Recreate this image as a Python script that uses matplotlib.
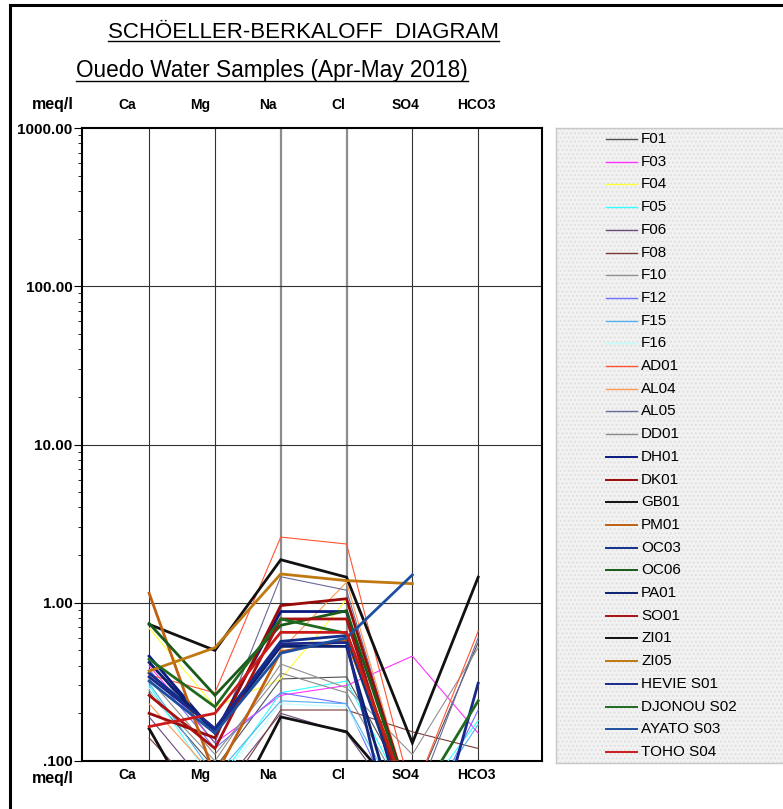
import numpy as np
import matplotlib
matplotlib.use("Agg")
import matplotlib.pyplot as plt
from matplotlib.patches import Rectangle
from matplotlib.lines import Line2D

plt.rcParams['font.family'] = ['Liberation Sans', 'DejaVu Sans']

# ---- data (meq/l), nan = not measured, values < 0.1 fall off the chart ----
ions = ["Ca", "Mg", "Na", "Cl", "SO4", "HCO3"]
samples = ["F01", "F03", "F04", "F05", "F06", "F08", "F10", "F12", "F15", "F16",
           "AD01", "AL04", "AL05", "DD01", "DH01", "DK01", "GB01", "PM01",
           "OC03", "OC06", "PA01", "SO01", "ZI01", "ZI05",
           "HEVIE S01", "DJONOU S02", "AYATO S03", "TOHO S04"]
ca = [0.27, 0.40, 0.69, 0.30, 0.19, 0.14, 0.28, 0.38, 0.31, 0.29,
      0.35, 0.23, 0.43, 0.33, 0.46, 0.20, 0.73, 1.15,
      0.36, 0.74, 0.42, 0.26, 0.16, 0.37,
      0.34, 0.44, 0.32, 0.165]
mg = [0.09, 0.13, 0.22, 0.07, 0.06, 0.05, 0.10, 0.12, 0.08, 0.07,
      0.27, 0.08, 0.13, 0.11, 0.15, 0.14, 0.50, 0.08,
      0.16, 0.26, 0.15, 0.12, 0.03, 0.52,
      0.16, 0.22, 0.15, 0.20]
na = [0.33, 0.26, 0.33, 0.27, 0.20, 0.21, 0.41, 0.27, 0.24, 0.23,
      2.60, 0.50, 1.46, 0.36, 0.88, 0.96, 1.87, 0.49,
      0.57, 0.72, 0.53, 0.79, 0.19, 1.52,
      0.55, 0.79, 0.48, 0.65]
cl = [0.34, 0.30, 1.05, 0.32, 0.15, 0.21, 0.29, 0.23, 0.23, 0.22,
      2.35, 1.35, 1.20, 0.27, 0.88, 1.06, 1.45, 0.58,
      0.62, 0.89, 0.53, 0.79, 0.153, 1.38,
      0.56, 0.64, 0.60, 0.65]
so4 = [0.06, 0.46, 0.04, 0.05, 0.04, 0.153, 0.11, 0.03, 0.04, 0.04,
       0.06, 0.05, 0.05, 0.05, 0.03, 0.05, 0.13, 0.05,
       0.04, 0.05, 0.02, 0.04, 0.05, 1.32,
       0.01, 0.05, 1.50, 0.05]
hco3 = [0.56, 0.15, np.nan, 0.18, np.nan, 0.12, 0.52, 0.21, 0.17, np.nan,
        0.66, np.nan, 0.60, np.nan, np.nan, np.nan, 1.45, np.nan,
        np.nan, np.nan, np.nan, np.nan, np.nan, np.nan,
        0.31, 0.24, np.nan, np.nan]

colors = ["#505050", "#ff33ff", "#ffff33", "#33ffff", "#6a4a7a", "#7a3a3a", "#909090",
          "#7070ff", "#50b0f0", "#c0ffff", "#ff5533", "#ff9950", "#6a6a9a", "#8a8a8a",
          "#0a1a80", "#9a0a0a", "#111111", "#c06010", "#10308a", "#1a5a1a", "#0a2070",
          "#aa1010", "#111111", "#c07810", "#1a2a8a", "#1f6a1f", "#1f4fa0", "#cc1a1a"]
thick = [False] * 14 + [True] * 14

W, H = 783, 809


def fx(px):
    return px / W


def fy(py):
    return 1 - py / H


fig = plt.figure(figsize=(W / 100, H / 100), dpi=100)
fig.patch.set_facecolor("white")

# outer frame of the sheet
fig.patches.append(Rectangle((fx(10), -0.1), 1.2, fy(5) + 0.1, transform=fig.transFigure,
                             fill=False, edgecolor="black", linewidth=2.2, clip_on=False))

ax = fig.add_axes([fx(82), fy(761), fx(542) - fx(82), fy(128) - fy(761)])
x = np.arange(len(ions))
values = np.array([ca, mg, na, cl, so4, hco3]).T

for i, name in enumerate(samples):
    ax.plot(x, values[i], color=colors[i], linewidth=2.0 if thick[i] else 0.8,
            solid_joinstyle="miter", zorder=3)

ax.set_yscale("log")
ax.set_ylim(0.1, 1000)
ax.set_xlim(-1.02, 5.97)

for xi, ion in enumerate(ions):
    heavy = ion in ("Na", "Cl")
    ax.axvline(xi, color="#8c8c8c" if heavy else "#333333",
               linewidth=1.6 if heavy else 0.8, zorder=1)
for yv in (1, 10, 100):
    ax.axhline(yv, color="#333333", linewidth=0.8, zorder=1)

ax.set_xticks([])
ax.set_yticks([0.1, 1, 10, 100, 1000])
ax.set_yticklabels([".100", "1.00", "10.00", "100.00", "1000.00"],
                   fontweight="bold", fontsize=11)
ax.yaxis.set_minor_locator(matplotlib.ticker.LogLocator(base=10, subs=np.arange(2, 10)))
ax.yaxis.set_minor_formatter(matplotlib.ticker.NullFormatter())
ax.tick_params(axis="y", which="major", length=6, width=0.8, pad=1)
ax.tick_params(axis="y", which="minor", length=3, width=0.6)
for s in ax.spines.values():
    s.set_linewidth(1.5)

# column labels above and below the chart
label_px = [127, 200, 268, 338, 406, 476]
for ion, px in zip(ions, label_px):
    fig.text(fx(px), fy(105), ion, ha="center", va="center", fontsize=10, fontweight="bold")
    fig.text(fx(px), fy(775), ion, ha="center", va="center", fontsize=10, fontweight="bold")
fig.text(fx(74), fy(105), "meq/l", ha="right", va="center", fontsize=11.5, fontweight="bold")
fig.text(fx(74), fy(779), "meq/l", ha="right", va="center", fontsize=11.5, fontweight="bold")

# titles, underlined
title = fig.text(fx(303), fy(32), "SCHÖELLER-BERKALOFF  DIAGRAM", ha="center", va="center",
                 fontsize=16)
subtitle = fig.text(fx(272), fy(71), "Ouedo Water Samples (Apr-May 2018)", ha="center",
                    va="center", fontsize=16.3)

# legend panel
lax = fig.add_axes([fx(556), fy(763), 1 - fx(556) + 0.01, fy(128) - fy(763)])
lax.set_xlim(556, 556 + (1 - fx(556) + 0.01) * W)
lax.set_ylim(763, 128)
lax.set_facecolor("#f2f2f2")
lax.add_patch(Rectangle((556, 128), 300, 635, facecolor="none", edgecolor="#e0e0e0",
                        hatch="....", linewidth=0, zorder=0))
lax.set_xticks([])
lax.set_yticks([])
for s in lax.spines.values():
    s.set_color("#c8c8c8")
    s.set_linewidth(1.0)
row_y = np.linspace(139, 752, len(samples))
for i, name in enumerate(samples):
    lax.plot([606, 637], [row_y[i], row_y[i]], color=colors[i],
             linewidth=1.4 if thick[i] else 1.0)
    lax.text(641, row_y[i], name, ha="left", va="center", fontsize=11)

fig.canvas.draw()
renderer = fig.canvas.get_renderer()
for t in (title, subtitle):
    bb = t.get_window_extent(renderer).transformed(fig.transFigure.inverted())
    fig.lines.append(Line2D([bb.x0, bb.x1], [bb.y0 + 0.002, bb.y0 + 0.002],
                            transform=fig.transFigure, color="black", linewidth=1.0))

fig.savefig("out.png", dpi=100)
